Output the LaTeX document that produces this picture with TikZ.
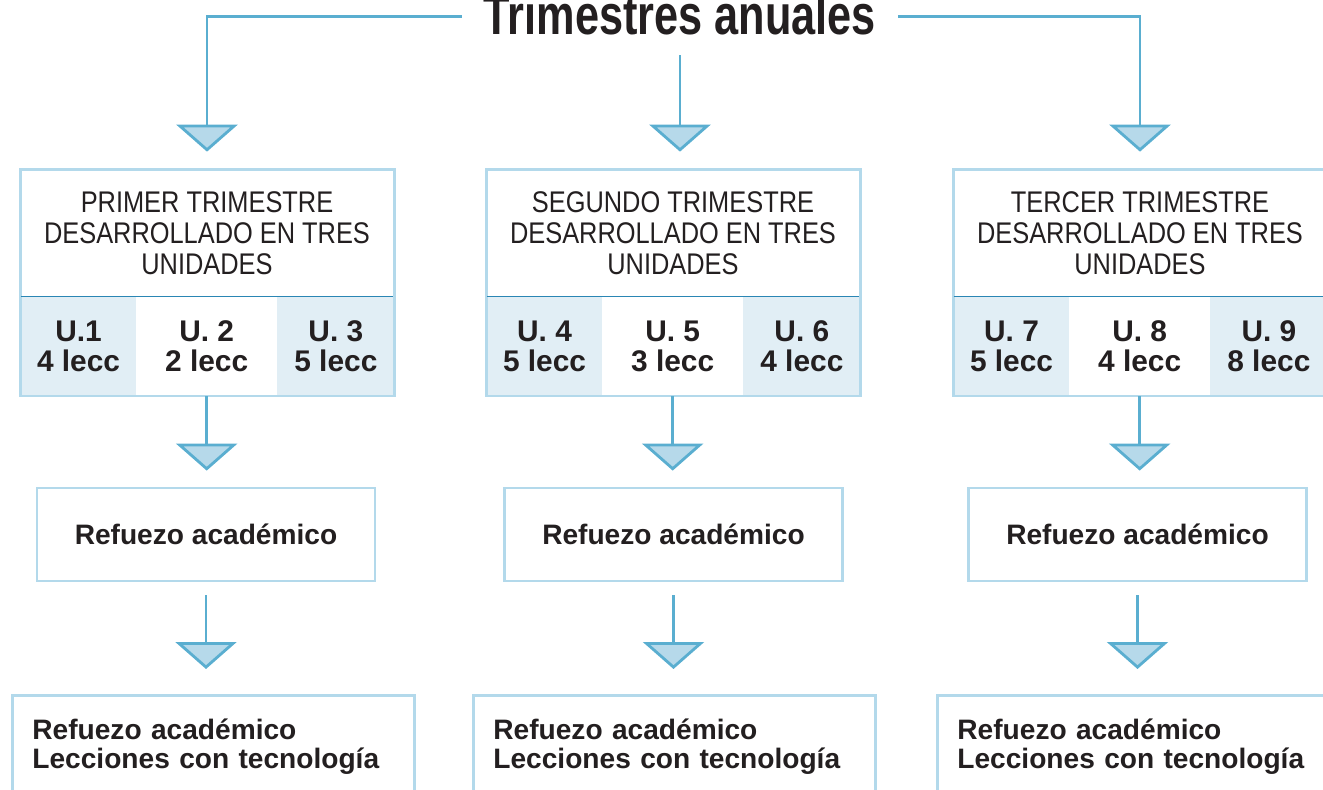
\documentclass[tikz,border=0pt]{standalone}
\usepackage{fontspec}
\setmainfont{Liberation Sans}
\newfontfamily\condfont[FakeStretch=0.85]{Liberation Sans}
\newfontfamily\titlefont[FakeStretch=0.77]{Liberation Sans}
\usetikzlibrary{arrows.meta,positioning}

\definecolor{ink}{HTML}{231F20}
\definecolor{wire}{HTML}{5AAED0}
\definecolor{frame}{HTML}{B3D9EB}
\definecolor{tipfill}{HTML}{B6D9EA}
\definecolor{shade}{HTML}{E1EEF5}
\definecolor{rulecol}{HTML}{2A86B4}

\tikzset{
  conn/.style={wire,line width=1.6pt,-{Triangle[width=1.22cm,length=0.54cm,fill=tipfill]}},
  boxline/.style={frame,line width=1.6pt},
  title/.style={font=\titlefont\bfseries\fontsize{32}{32}\selectfont,text=ink,
    inner xsep=0.44cm,inner ysep=0pt,text height=1.132cm,text depth=0.4cm},
  head/.style={minimum width=7.44cm,minimum height=2.52cm,inner sep=0pt,align=center,
    font=\condfont\fontsize{17}{17.6}\selectfont,text=ink},
  cell/.style={minimum height=1.98cm,inner sep=0pt,align=center,fill=shade,
    font=\bfseries\fontsize{17}{17}\selectfont,text=ink},
  refbox/.style={draw=frame,line width=1.6pt,minimum width=6.76cm,minimum height=1.86cm,
    font=\bfseries\fontsize{16}{17}\selectfont,text=ink},
  lastbox/.style={draw=frame,line width=1.6pt,anchor=north west,align=left,
    inner xsep=0.4cm,inner ysep=0.46cm,text width=7.24cm,
    font=\bfseries\fontsize{16}{17}\selectfont,text=ink}
}

\begin{document}
\begin{tikzpicture}[x=0.02cm,y=-0.02cm]
  \useasboundingbox (0,0) rectangle (1323,790);
  \node[title] (title) at (680,16.7) {Trimestres anuales};
  \foreach \i/\x/\rx/\lx/\ord/\ua/\ub/\uc/\na/\nb/\nc in {%
      1/207/206/11/PRIMER/U.1/U.~2/U.~3/4/2/5,
      2/673/673.5/472/SEGUNDO/U.~4/U.~5/U.~6/5/3/4,
      3/1140/1137.5/936/TERCER/U.~7/U.~8/U.~9/5/4/8} {
    \node[head] (h\i) at (\x,233) {\ord{} TRIMESTRE\\DESARROLLADO EN TRES\\UNIDADES};
    \node[cell,anchor=north west,minimum width=2.3cm] (ua\i) at (h\i.south west) {\ua\\\na{} lecc};
    \node[cell,right=0pt of ua\i,minimum width=2.8cm,fill=white] (ub\i) {\ub\\\nb{} lecc};
    \node[cell,right=0pt of ub\i,minimum width=2.34cm] (uc\i) {\uc\\\nc{} lecc};
    \draw[boxline] (h\i.north west) rectangle (uc\i.south east);
    \draw[rulecol,line width=0.8pt] (h\i.south west) -- (h\i.south east);
    \node[refbox] (r\i) at (\rx,534.5) {Refuezo académico};
    \node[lastbox] (l\i) at (\lx,694) {Refuezo académico\\Lecciones con tecnología};
    \draw[conn,shorten >=0.32cm] (ub\i.south) -- (ub\i.south |- r\i.north);
    \draw[conn,shorten <=0.26cm,shorten >=0.5cm] (r\i.south) -- (r\i.south |- l\i.north);
  }
  \draw[conn,shorten >=0.36cm] (title.west) -| (h1.north);
  \draw[conn,shorten >=0.36cm] (title.east) -| (h3.north);
  \draw[conn,shorten >=0.36cm] (title.south) -- (title.south |- h2.north);
\end{tikzpicture}
\end{document}
